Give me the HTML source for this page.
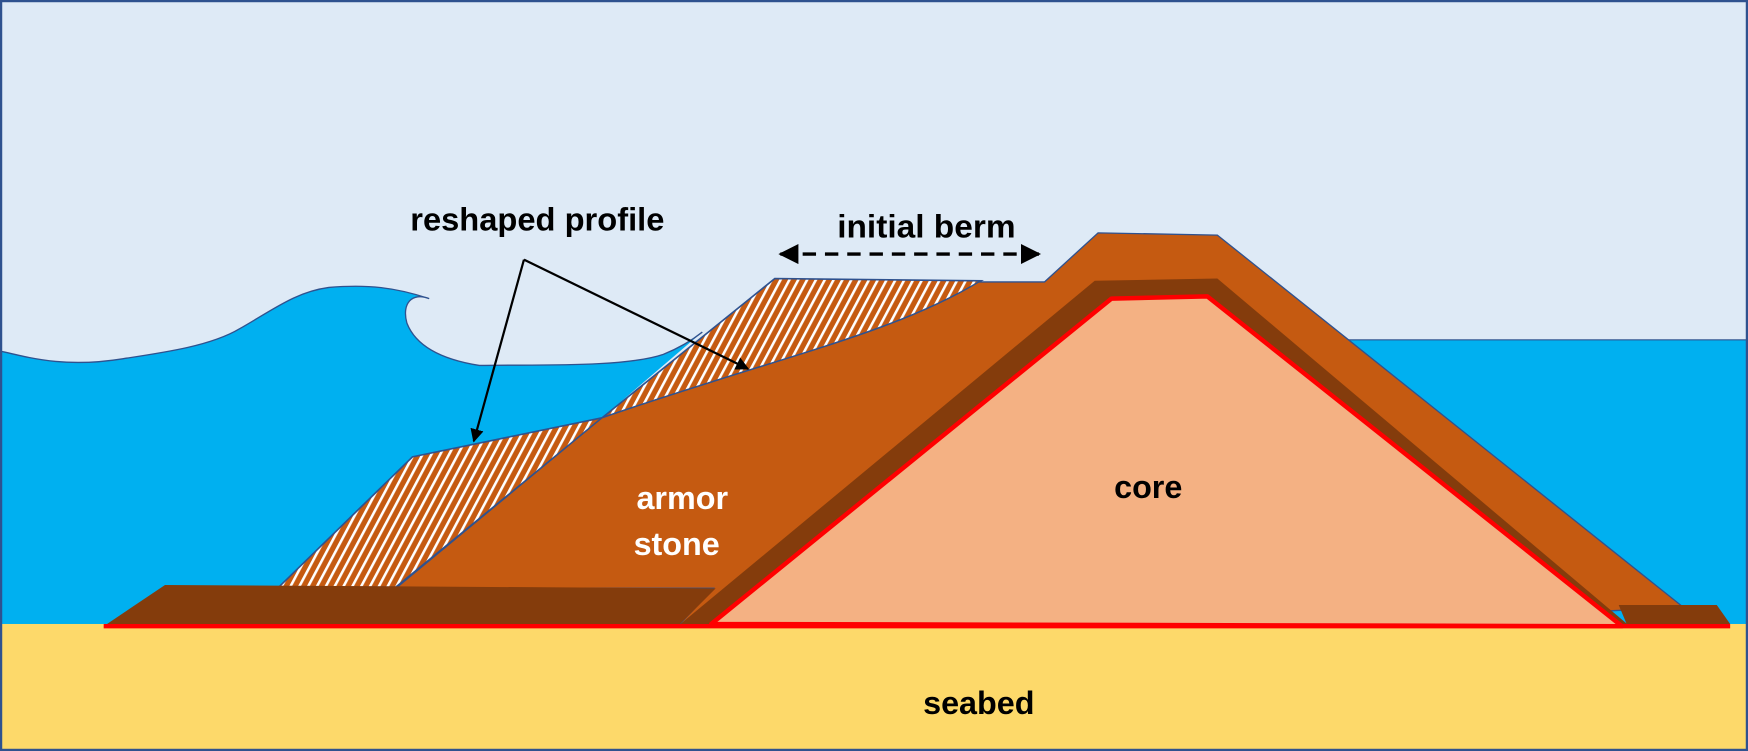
<!DOCTYPE html>
<html><head><meta charset="utf-8"><style>html,body{margin:0;padding:0;background:#fff}svg{display:block}</style></head>
<body>
<svg width="1748" height="751" viewBox="0 0 1568 674" preserveAspectRatio="none" xmlns="http://www.w3.org/2000/svg">
<defs>
<pattern id="h" patternUnits="userSpaceOnUse" width="7" height="7" patternTransform="rotate(28)">
<rect width="7" height="7" fill="#C55A11"/><rect width="2.3" height="7" fill="#fff"/>
</pattern>
<marker id="a" viewBox="0 0 10 10" refX="9" refY="5" markerWidth="6" markerHeight="6" orient="auto-start-reverse"><path d="M0,0L10,5L0,10z" fill="#000"/></marker>
</defs>
<rect x="0" y="0" width="1568" height="674" fill="#DEEAF6"/>
<rect x="1200" y="305" width="368" height="258" fill="#00B0F0" stroke="#2F528F" stroke-width="1"/>
<path d="M0,315 C30,322 60,330 110,322 C150,316 190,310 215,295 C245,278 265,262 295,258 C330,255 355,258 385,268 C370,262 360,272 365,290 C372,308 392,322 430,328 C480,327 560,330 595,318 C610,312 620,306 630,298 L540,375 L250,560 L0,560 Z" fill="#00B0F0"/>
<path d="M0,315 C30,322 60,330 110,322 C150,316 190,310 215,295 C245,278 265,262 295,258 C330,255 355,258 385,268 C370,262 360,272 365,290 C372,308 392,322 430,328 C480,327 560,330 595,318 C610,312 620,306 630,298" fill="none" stroke="#2F528F" stroke-width="1.2"/>
<rect x="0" y="560" width="1568" height="114" fill="#FDD96A"/>
<path d="M250,527 L370,410 L540,375 L355,527 Z" fill="url(#h)" stroke="#2F528F" stroke-width="1.5"/>
<path d="M540,375 L695,250 L880,252 C800,300 700,320 540,375 Z" fill="url(#h)" stroke="#2F528F" stroke-width="1.5"/>
<path d="M355,528 L540,375 C700,320 800,300 878,253 L937,253 L985,209 L1092,211 L1510,545 L1200,560 L608,562 L640,528 Z" fill="#C55A11" stroke="#2F528F" stroke-width="1.2"/>
<path d="M93,562 L148,525 L642,528 L608,562 Z" fill="#843C0C"/>
<path d="M1452,543 L1540,543 L1552,560 L1460,562 Z" fill="#843C0C"/>
<path d="M608,562 L982,252 L1092,250 L1462,562 Z" fill="#843C0C"/>
<path d="M638,560 L997,268 L1083,266 L1455,562 Z" fill="#F4B183" stroke="#FF0000" stroke-width="4" stroke-linejoin="round"/>
<line x1="93" y1="562" x2="1552" y2="562" stroke="#FF0000" stroke-width="4"/>
<line x1="470" y1="233" x2="425" y2="396" stroke="#000" stroke-width="2" marker-end="url(#a)"/>
<line x1="470" y1="233" x2="671" y2="331" stroke="#000" stroke-width="2" marker-end="url(#a)"/>
<line x1="700" y1="228" x2="932" y2="228" stroke="#000" stroke-width="3" stroke-dasharray="12,8" marker-start="url(#a)" marker-end="url(#a)"/>
<g font-family="Liberation Sans, sans-serif" font-weight="bold" font-size="29" text-anchor="middle">
<text x="482" y="207" textLength="228" lengthAdjust="spacingAndGlyphs">reshaped profile</text>
<text x="831" y="213" textLength="160" lengthAdjust="spacingAndGlyphs">initial berm</text>
<text x="612" y="457" fill="#fff">armor</text>
<text x="607" y="498" fill="#fff">stone</text>
<text x="1030" y="447">core</text>
<text x="878" y="641">seabed</text>
</g>
<rect x="1" y="1" width="1566" height="672" fill="none" stroke="#2F528F" stroke-width="2"/>
</svg>
</body></html>
